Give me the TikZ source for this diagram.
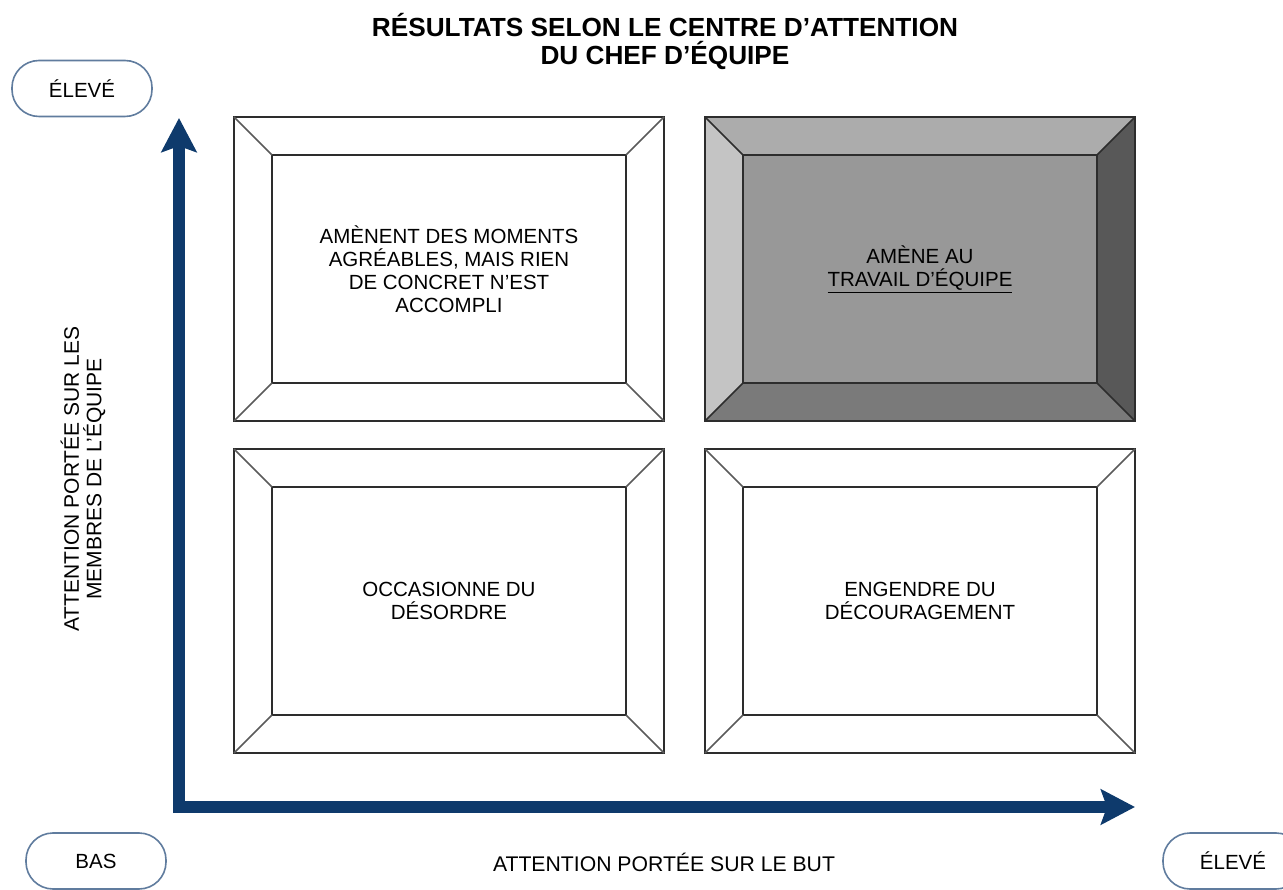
\documentclass[tikz,border=0pt]{standalone}
\usepackage{fontspec}
\setmainfont{Liberation Sans}
\usetikzlibrary{arrows.meta}
\definecolor{navy}{RGB}{14,58,108}
\definecolor{pillline}{RGB}{96,124,158}
\definecolor{boxline}{RGB}{45,45,45}
\definecolor{bevelline}{RGB}{90,90,90}
\definecolor{gtop}{RGB}{172,172,172}
\definecolor{gleft}{RGB}{196,196,196}
\definecolor{gright}{RGB}{88,88,88}
\definecolor{gbottom}{RGB}{122,122,122}
\definecolor{ginner}{RGB}{152,152,152}
\pgfdeclarelayer{bg}
\pgfsetlayers{bg,main}
\begin{document}
\begin{tikzpicture}[x=1pt,y=-1pt,
  txt/.style={font=\fontsize{20.5}{23}\selectfont, align=center, inner sep=0pt},
  titletxt/.style={font=\fontsize{26.2}{28}\selectfont\bfseries, inner sep=0pt, anchor=base},
  outerbox/.style={draw=boxline, line width=2pt, minimum width=430pt, minimum height=304pt, inner sep=0pt, outer sep=0pt},
  innerbox/.style={draw=boxline, line width=2pt, minimum width=354pt, minimum height=228pt, inner sep=0pt, outer sep=0pt, txt},
  bevel/.style={draw=bevelline, line width=1.5pt},
  pill/.style={draw=pillline, line width=1.6pt, rounded corners=27pt, minimum width=140pt, minimum height=56pt, fill=white, txt},
  axis/.style={draw=navy, line width=12pt, -{Stealth[length=34pt, width=35pt, inset=6pt]}}
]
\useasboundingbox (0,0) rectangle (1283,890);

% title
\node[titletxt] (title1) at (665,37) {RÉSULTATS SELON LE CENTRE D’ATTENTION};
\node[titletxt] (title2) at (665,65) {DU CHEF D’ÉQUIPE};

% boxes
\node[outerbox] (tl) at (449,269) {};
\node[innerbox] (tlin) at (449,269) {AMÈNENT DES MOMENTS\\AGRÉABLES, MAIS RIEN\\DE CONCRET N’EST\\ACCOMPLI};
\node[outerbox] (tr) at (920,269) {};
\node[innerbox, fill=ginner] (trin) at (920,269) {AMÈNE AU\\\underline{TRAVAIL D’ÉQUIPE}};
\node[outerbox] (bl) at (449,601) {};
\node[innerbox] (blin) at (449,601) {OCCASIONNE DU\\DÉSORDRE};
\node[outerbox] (br) at (920,601) {};
\node[innerbox] (brin) at (920,601) {ENGENDRE DU\\DÉCOURAGEMENT};

\begin{pgfonlayer}{bg}
  \fill[gtop] (tr.north west) -- (tr.north east) -- (trin.north east) -- (trin.north west) -- cycle;
  \fill[gleft] (tr.north west) -- (trin.north west) -- (trin.south west) -- (tr.south west) -- cycle;
  \fill[gright] (tr.north east) -- (trin.north east) -- (trin.south east) -- (tr.south east) -- cycle;
  \fill[gbottom] (tr.south west) -- (trin.south west) -- (trin.south east) -- (tr.south east) -- cycle;
\end{pgfonlayer}

\foreach \o/\i in {tl/tlin, bl/blin, br/brin}{
  \draw[bevel] (\o.north west) -- (\i.north west);
  \draw[bevel] (\o.north east) -- (\i.north east);
  \draw[bevel] (\o.south west) -- (\i.south west);
  \draw[bevel] (\o.south east) -- (\i.south east);
}
\draw[bevel, draw=boxline] (tr.north west) -- (trin.north west);
\draw[bevel, draw=boxline] (tr.north east) -- (trin.north east);
\draw[bevel, draw=boxline] (tr.south west) -- (trin.south west);
\draw[bevel, draw=boxline] (tr.south east) -- (trin.south east);

% axes
\coordinate (origin) at (179,807);
\coordinate (ytip) at (179,118);
\coordinate (xtip) at (1135,807);
\draw[axis] ([yshift=-6pt]origin) -- (ytip);
\draw[axis] ([xshift=-6pt]origin) -- (xtip);

% axis labels
\node[txt, rotate=90, font=\fontsize{21}{22.5}\selectfont] (ylabel) at (83,479) {ATTENTION PORTÉE SUR LES\\MEMBRES DE L’ÉQUIPE};
\node[txt, font=\fontsize{21.2}{23}\selectfont] (xlabel) at (664,862) {ATTENTION PORTÉE SUR LE BUT};

% pills
\node[pill] (yhigh) at (82,88.5) {ÉLEVÉ};
\node[pill] (low) at (96,861) {BAS};
\node[pill] (xhigh) at (1233,861) {ÉLEVÉ};
\end{tikzpicture}
\end{document}
